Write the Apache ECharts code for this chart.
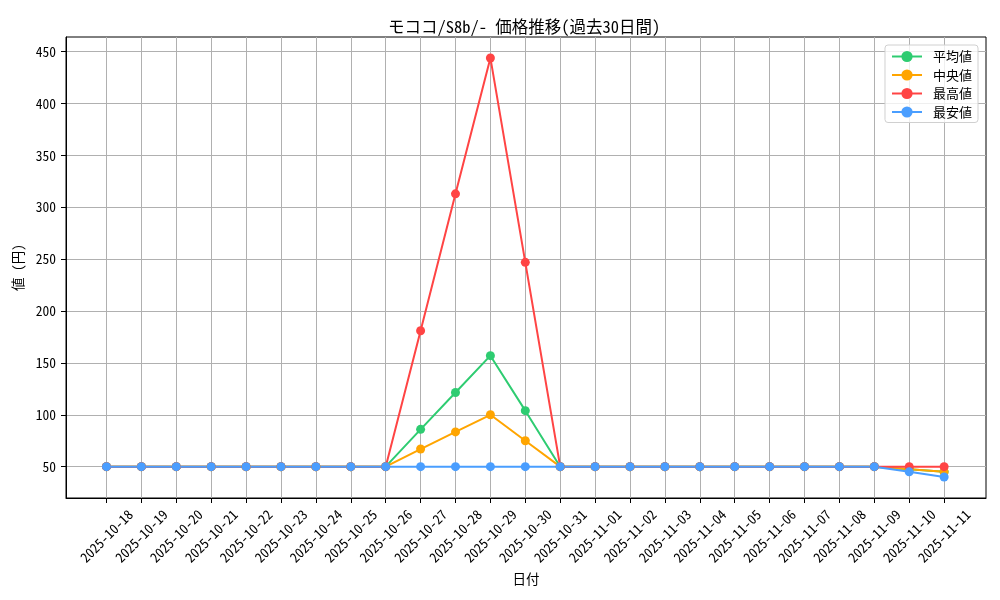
<!DOCTYPE html>
<html lang="ja">
<head>
    <meta charset="UTF-8">
    <title>価格推移</title>
    <script src="https://cdn.jsdelivr.net/npm/echarts@6/dist/echarts.min.js"></script>
    <style>
        html, body { margin: 0; padding: 0; background: #fff; }
        #chart { width: 1000px; height: 600px; }
    </style>
</head>
<body>
<div id="chart"></div>
<script>
    // 日付
    var dates = ['2025-10-18', '2025-10-19', '2025-10-20', '2025-10-21', '2025-10-22',
        '2025-10-23', '2025-10-24', '2025-10-25', '2025-10-26', '2025-10-27',
        '2025-10-28', '2025-10-29', '2025-10-30', '2025-10-31', '2025-11-01',
        '2025-11-02', '2025-11-03', '2025-11-04', '2025-11-05', '2025-11-06',
        '2025-11-07', '2025-11-08', '2025-11-09', '2025-11-10', '2025-11-11'];
    // 各系列の値
    var avgValues = [50, 50, 50, 50, 50, 50, 50, 50, 50, 86, 121.5, 157, 104, 50, 50, 50, 50, 50, 50, 50, 50, 50, 50, 47.5, 45];
    var medValues = [50, 50, 50, 50, 50, 50, 50, 50, 50, 67, 83.5, 100, 75, 50, 50, 50, 50, 50, 50, 50, 50, 50, 50, 47.5, 45];
    var maxValues = [50, 50, 50, 50, 50, 50, 50, 50, 50, 181, 313, 444, 247, 50, 50, 50, 50, 50, 50, 50, 50, 50, 50, 50, 50];
    var minValues = [50, 50, 50, 50, 50, 50, 50, 50, 50, 50, 50, 50, 50, 50, 50, 50, 50, 50, 50, 50, 50, 50, 50, 45, 40];
    var yTicks = [50, 100, 150, 200, 250, 300, 350, 400, 450];

    var font = '"Noto Sans Mono CJK JP", "Noto Sans CJK JP", monospace';

    function toPairs(list) {
        return list.map(function (v, i) { return [i, v]; });
    }
    var xTicks = dates.map(function (d, i) { return i; });

    function makeSeries(name, list, color) {
        return {
            name: name,
            type: 'line',
            data: toPairs(list),
            symbol: 'circle',
            symbolSize: 9,
            lineStyle: { color: color, width: 2 },
            itemStyle: { color: color },
            animation: false
        };
    }

    var option = {
        animation: false,
        textStyle: { fontFamily: font, color: '#000' },
        title: {
            text: 'モココ/S8b/- 価格推移(過去30日間)',
            left: 383,
            top: 13,
            textStyle: { fontFamily: font, fontSize: 16.5, fontWeight: 'normal', color: '#000' }
        },
        legend: {
            orient: 'vertical',
            right: 22,
            top: 45,
            itemWidth: 30,
            itemHeight: 14,
            itemGap: 5.5,
            padding: [5, 6, 4, 6],
            borderColor: '#d0d0d0',
            borderWidth: 1,
            borderRadius: 3,
            backgroundColor: 'rgba(255,255,255,0.8)',
            textStyle: { fontFamily: font, fontSize: 13, color: '#000', padding: [0, 0, 0, 6] },
            data: ['平均値', '中央値', '最高値', '最安値']
        },
        grid: {
            left: 66,
            right: 14,
            top: 37,
            bottom: 102,
            show: true,
            borderColor: '#000',
            borderWidth: 1,
            backgroundColor: 'transparent'
        },
        xAxis: {
            type: 'value',
            min: -1.16,
            max: 25.2,
            name: '日付',
            nameLocation: 'middle',
            nameGap: 74,
            nameTextStyle: { fontFamily: font, fontSize: 13.5, color: '#000' },
            axisLine: { show: true, onZero: false, lineStyle: { color: '#000', width: 1 } },
            axisTick: { show: true, customValues: xTicks, length: 5, lineStyle: { color: '#000' } },
            axisLabel: {
                customValues: xTicks,
                rotate: 45,
                align: 'center',
                verticalAlign: 'middle',
                margin: 38,
                fontFamily: font,
                fontSize: 13.5,
                color: '#000',
                formatter: function (v) { return dates[Math.round(v)]; }
            },
            splitLine: { show: true, lineStyle: { color: '#b0b0b0', width: 1 } }
        },
        yAxis: {
            type: 'value',
            min: 19.8,
            max: 464.2,
            name: '値 (円)',
            nameLocation: 'middle',
            nameGap: 40,
            nameRotate: 90,
            nameTextStyle: { fontFamily: font, fontSize: 13.5, color: '#000' },
            axisLine: { show: true, onZero: false, lineStyle: { color: '#000', width: 1 } },
            axisTick: { show: true, customValues: yTicks, length: 5, lineStyle: { color: '#000' } },
            axisLabel: {
                customValues: yTicks,
                margin: 10,
                fontFamily: font,
                fontSize: 13.5,
                color: '#000'
            },
            splitLine: { show: true, lineStyle: { color: '#b0b0b0', width: 1 } }
        },
        series: [
            makeSeries('平均値', avgValues, '#2ecc71'),
            makeSeries('中央値', medValues, '#ffa500'),
            makeSeries('最高値', maxValues, '#ff4444'),
            makeSeries('最安値', minValues, '#4a9eff')
        ]
    };

    var myChart = echarts.init(document.getElementById('chart'));
    myChart.setOption(option);
</script>
</body>
</html>
